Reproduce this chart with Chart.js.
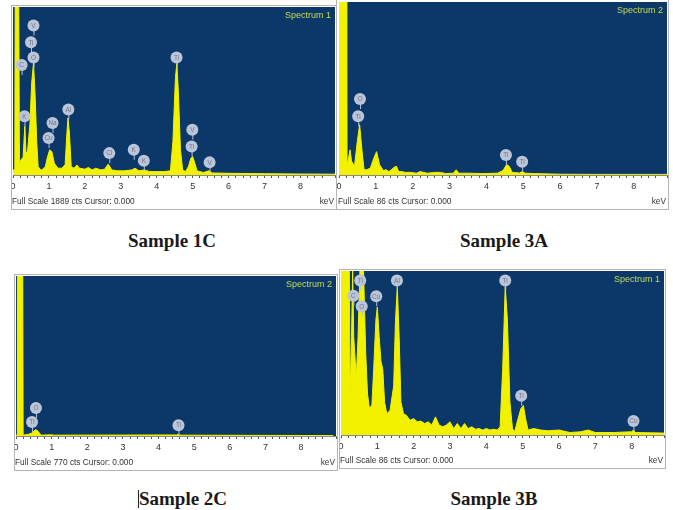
<!DOCTYPE html>
<html>
<head>
<meta charset="utf-8">
<script src="https://cdn.jsdelivr.net/npm/chart.js@4/dist/chart.umd.min.js"></script>
<style>
  html, body { margin:0; padding:0; background:#fff; }
  body { width:673px; height:510px; position:relative; overflow:hidden; }
  .panel { position:absolute; outline:1px solid #b4b4b4; }
  .panel canvas { display:block; }
  .cap { position:absolute; font-family:"Liberation Serif","Times New Roman",serif; font-weight:bold;
         font-size:19px; line-height:19px; color:#1a1a1a; white-space:nowrap; transform:translateX(-50%); }
  .cursor { position:absolute; left:138px; top:490px; width:1px; height:18px; background:#222; }
</style>
</head>
<body>
<div class="panel" id="p1" style="left:12px;top:6px;width:324px;height:203px"><canvas id="c1" width="324" height="203"></canvas></div>
<div class="panel" id="p2" style="left:337px;top:0px;width:331px;height:209px"><canvas id="c2" width="331" height="209"></canvas></div>
<div class="panel" id="p3" style="left:15px;top:275px;width:322px;height:195px"><canvas id="c3" width="322" height="195"></canvas></div>
<div class="panel" id="p4" style="left:340px;top:270px;width:325px;height:198px"><canvas id="c4" width="325" height="198"></canvas></div>

<div class="cap" style="left:172px;top:231px">Sample 1C</div>
<div class="cap" style="left:504px;top:231px">Sample 3A</div>
<div class="cap" style="left:183px;top:489px">Sample 2C</div>
<div class="cap" style="left:494px;top:489px">Sample 3B</div>
<div class="cursor"></div>

<script>
// ---------------- DATA ----------------
// Sample 1C (Spectrum 1, full scale 1889 cts)
const s1C_keV = [0, 0.05, 0.06, 0.16, 0.18, 0.22, 0.28, 0.33, 0.36, 0.40, 0.47, 0.52, 0.57, 0.61, 0.66, 0.70, 0.75, 0.80, 0.90, 0.95,
                 1.02, 1.08, 1.15, 1.25, 1.35, 1.45, 1.50, 1.53, 1.57, 1.62, 1.70, 1.78, 1.85, 2.00, 2.10, 2.20, 2.30, 2.45, 2.55, 2.65,
                 2.75, 2.90, 3.10, 3.30, 3.40, 3.50, 3.65, 3.80, 4.00, 4.20, 4.38, 4.45, 4.52, 4.56, 4.60, 4.66, 4.72, 4.80, 4.88, 4.95,
                 5.00, 5.06, 5.12, 5.30, 5.45, 5.55, 6.00, 7.00, 8.00, 9.00];
const s1C_cts = [57, 57, 1889, 1889, 94, 170, 200, 548, 260, 246, 567, 1039, 1256, 945, 378, 94, 66, 57, 94, 189,
                 283, 264, 132, 76, 76, 113, 472, 642, 472, 94, 76, 113, 76, 66, 85, 57, 76, 57, 66, 123,
                 57, 47, 47, 57, 76, 47, 57, 38, 38, 38, 47, 378, 1096, 1256, 945, 283, 57, 38, 94, 189,
                 208, 132, 47, 28, 47, 23, 19, 15, 11, 9];
const s1C_lblText = ['C', 'Ti', 'V', 'O', 'K', 'Na', 'Cu', 'Al', 'Cl', 'K', 'K', 'Ti', 'V', 'Ti', 'V'];
const s1C_lblKeV  = [0.24, 0.50, 0.57, 0.57, 0.32, 1.10, 0.99, 1.54, 2.68, 3.36, 3.64, 4.55, 4.99, 4.97, 5.47];
const s1C_lblCts  = [1237, 1492, 1681, 1322, 661, 586, 416, 737, 246, 283, 161, 1322, 510, 321, 142];

// Sample 3A (Spectrum 2, full scale 86 cts)
const s3A_keV = [0, 0.20, 0.21, 0.26, 0.30, 0.34, 0.42, 0.50, 0.56, 0.62, 0.68, 0.75, 0.85, 0.95, 1.02, 1.10, 1.20, 1.28, 1.35, 1.42,
                 1.50, 1.56, 1.62, 1.70, 1.80, 1.95, 2.10, 2.20, 2.30, 2.40, 2.60, 2.75, 2.90, 3.10, 3.18, 3.25, 3.50, 3.90, 4.30, 4.45,
                 4.55, 4.62, 4.70, 4.90, 4.97, 5.05, 5.30, 6.00, 7.00, 8.00, 8.90];
const s3A_cts = [86, 86, 4.3, 8.6, 12.5, 6.9, 4.3, 17.2, 25, 12.9, 2.6, 2.6, 3.4, 8.6, 11.6, 5.2, 2.2, 2.6, 1.7, 2.6,
                 3.9, 4.3, 1.7, 1.7, 1.3, 1.3, 0.9, 1.7, 1.3, 0.9, 1.3, 1.3, 0.7, 0.9, 2.6, 0.9, 0.9, 0.7, 0.9, 2.2,
                 5.2, 4.3, 1.3, 1.0, 1.7, 0.9, 0.7, 0.4, 0.3, 0.3, 0.3];
const s3A_lblText = ['O', 'Ti', 'Ti', 'Ti'];
const s3A_lblKeV  = [0.57, 0.52, 4.53, 4.97];
const s3A_lblCts  = [37.8, 29.2, 10, 6.6];

// Sample 2C (Spectrum 2, full scale 770 cts)
const s2C_keV = [0, 0.03, 0.04, 0.19, 0.20, 0.35, 0.45, 0.55, 0.62, 0.70, 1.00, 1.05, 4.50, 4.55, 4.60, 8.90];
const s2C_cts = [4, 4, 770, 770, 4, 8, 15, 31, 23, 4, 6, 4, 5, 8, 4, 2];
const s2C_lblText = ['O', 'Ti', 'Ti'];
const s2C_lblKeV  = [0.56, 0.45, 4.56];
const s2C_lblCts  = [135, 67, 52];

// Sample 3B (Spectrum 1, full scale 86 cts)
const s3B_keV = [0, 0.23, 0.25, 0.29, 0.32, 0.35, 0.42, 0.47, 0.52, 0.62, 0.68, 0.73, 0.78, 0.85, 0.90, 0.96, 1.00, 1.05, 1.10, 1.15,
                 1.20, 1.26, 1.35, 1.45, 1.50, 1.55, 1.60, 1.65, 1.72, 1.80, 1.90, 2.00, 2.10, 2.20, 2.30, 2.40, 2.50, 2.60, 2.70, 2.80,
                 2.90, 3.00, 3.10, 3.20, 3.30, 3.40, 3.50, 3.60, 3.70, 3.80, 3.90, 4.00, 4.10, 4.20, 4.30, 4.38, 4.45, 4.52, 4.58, 4.65,
                 4.72, 4.78, 4.85, 4.95, 5.02, 5.08, 5.15, 5.30, 5.50, 5.70, 6.00, 6.30, 6.60, 6.80, 7.00, 7.50, 8.00, 8.05, 8.10, 8.90];
const s3B_cts = [86, 86, 19.4, 51.6, 86, 51.6, 30.1, 51.6, 86, 86, 43, 21.5, 14.2, 15.5, 34.4, 60.2, 67.1, 51.6, 38.7, 34.4,
                 17.2, 11.2, 12.9, 25.8, 60.2, 77.8, 51.6, 17.2, 11.2, 10.3, 7.7, 8.6, 6.9, 7.3, 6.0, 6.9, 5.2, 9.5, 5.2, 4.3,
                 5.2, 6.9, 3.4, 6.0, 3.4, 6.0, 3.4, 4.3, 3.0, 3.4, 2.6, 3.4, 2.6, 3.0, 2.6, 4.3, 34.4, 77.8, 60.2, 17.2,
                 3.4, 1.7, 6.9, 13.8, 15.5, 8.6, 2.6, 3.4, 2.6, 2.2, 2.6, 1.3, 1.7, 2.6, 1.3, 1.3, 1.7, 2.6, 1.3, 1.0];
const s3B_lblText = ['C', 'Ti', 'O', 'Cu', 'Al', 'Ti', 'Ti', 'Cu'];
const s3B_lblKeV  = [0.34, 0.53, 0.57, 0.97, 1.54, 4.52, 4.96, 8.05];
const s3B_lblCts  = [73, 81, 67.5, 72.7, 81, 81, 20.6, 7.3];

const spectrumNames = ['Spectrum 1', 'Spectrum 2', 'Spectrum 2', 'Spectrum 1'];
const fullScaleCts  = [1889, 86, 770, 86];
const footerTexts   = ['Full Scale 1889 cts Cursor: 0.000', 'Full Scale 86 cts Cursor: 0.000',
                       'Full Scale 770 cts Cursor: 0.000', 'Full Scale 86 cts Cursor: 0.000'];
const unitText = 'keV';

// ---------------- STYLE ----------------
const BLUE = '#0b3868';
const YELLOW = '#f2f200';

function makeDeco(idx, lblText, lblKeV, lblCts) {
  return {
    id: 'deco' + idx,
    beforeDraw(chart) {
      const { ctx, chartArea: a } = chart;
      ctx.save();
      ctx.fillStyle = BLUE;
      ctx.fillRect(a.left, a.top, a.right - a.left, a.bottom - a.top);
      ctx.restore();
    },
    afterDraw(chart) {
      const { ctx, chartArea: a, scales: { x, y } } = chart;
      ctx.save();
      // spectrum name
      ctx.font = '9px "Liberation Sans", Arial, sans-serif';
      ctx.fillStyle = '#c4dc50';
      ctx.textAlign = 'right';
      ctx.textBaseline = 'middle';
      ctx.fillText(spectrumNames[idx], a.right - 4, a.top + 9);
      // element labels
      lblText.forEach((t, i) => {
        const px = x.getPixelForValue(lblKeV[i]);
        const py = y.getPixelForValue(lblCts[i]);
        ctx.strokeStyle = '#b6c0d4';
        ctx.lineWidth = 1;
        ctx.beginPath();
        ctx.moveTo(px + 0.5, py + 5);
        ctx.lineTo(px + 0.5, py + 10);
        ctx.stroke();
        ctx.beginPath();
        ctx.arc(px, py, 6, 0, Math.PI * 2);
        ctx.fillStyle = '#bcc5d8';
        ctx.fill();
        ctx.fillStyle = '#6c7790';
        ctx.font = '6.5px "Liberation Sans", Arial, sans-serif';
        ctx.textAlign = 'center';
        ctx.textBaseline = 'middle';
        ctx.fillText(t, px, py + 0.5);
      });
      // footer
      ctx.fillStyle = '#333';
      ctx.font = '8.3px "Liberation Sans", Arial, sans-serif';
      ctx.textBaseline = 'middle';
      ctx.textAlign = 'left';
      ctx.fillText(footerTexts[idx], a.left - 1, chart.height - 7.5);
      ctx.textAlign = 'right';
      ctx.fillText(unitText, a.right - 1, chart.height - 7.5);
      ctx.restore();
    }
  };
}

function makeChart(canvasId, idx, keV, cts, lblText, lblKeV, lblCts, xMax, pad, axisH) {
  const pts = keV.map((k, i) => ({ x: k, y: cts[i] }));
  return new Chart(document.getElementById(canvasId), {
    type: 'line',
    data: {
      datasets: [{
        data: pts,
        fill: 'origin',
        backgroundColor: YELLOW,
        borderColor: YELLOW,
        borderWidth: 1,
        pointRadius: 0,
        tension: 0
      }]
    },
    options: {
      responsive: false,
      animation: false,
      events: [],
      layout: { padding: pad },
      plugins: { legend: { display: false }, tooltip: { enabled: false }, title: { display: false } },
      scales: {
        x: {
          type: 'linear',
          min: 0,
          max: xMax,
          afterFit: (s) => { s.height = axisH; s.paddingLeft = 0; s.paddingRight = 0; },
          border: { display: true, color: '#8a8a8a', width: 1 },
          grid: { drawOnChartArea: false, drawTicks: true, tickLength: 3, color: '#555', tickWidth: 1 },
          ticks: {
            stepSize: 0.2,
            autoSkip: false,
            maxRotation: 0,
            minRotation: 0,
            maxTicksLimit: 100,
            padding: 3,
            color: '#333',
            font: { family: '"Liberation Sans", Arial, sans-serif', size: 9 },
            callback: (v) => (v <= 8.5 && Math.abs(v - Math.round(v)) < 1e-6) ? String(Math.round(v)) : ''
          }
        },
        y: { display: false, min: 0, max: fullScaleCts[idx] }
      }
    },
    plugins: [makeDeco(idx, lblText, lblKeV, lblCts)]
  });
}

makeChart('c1', 0, s1C_keV, s1C_cts, s1C_lblText, s1C_lblKeV, s1C_lblCts, 8.96, { left: 1, right: 1, top: 1, bottom: 0 }, 34);
makeChart('c2', 1, s3A_keV, s3A_cts, s3A_lblText, s3A_lblKeV, s3A_lblCts, 8.9,  { left: 2, right: 1, top: 2, bottom: 0 }, 34);
makeChart('c3', 2, s2C_keV, s2C_cts, s2C_lblText, s2C_lblKeV, s2C_lblCts, 8.98, { left: 1, right: 1, top: 1, bottom: 0 }, 34);
makeChart('c4', 3, s3B_keV, s3B_cts, s3B_lblText, s3B_lblKeV, s3B_lblCts, 8.89, { left: 1, right: 1, top: 1, bottom: 0 }, 33);
</script>
</body>
</html>
